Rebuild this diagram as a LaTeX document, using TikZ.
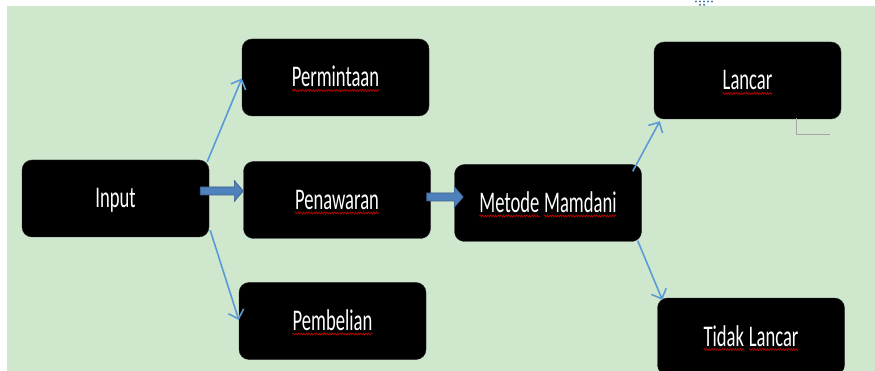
\documentclass[tikz,border=0pt]{standalone}
\usepackage{fontspec}
\usepackage{tikz}
\usetikzlibrary{arrows.meta, positioning, calc, decorations.pathmorphing}
\newfontfamily\boxfont[FakeStretch=0.62]{Carlito}
\definecolor{bggreen}{RGB}{207,231,205}
\definecolor{linkblue}{RGB}{91,155,213}
\definecolor{blockblue}{RGB}{79,129,189}
\definecolor{blockedge}{RGB}{56,93,138}
\definecolor{spellred}{RGB}{192,0,0}
% red spell-check squiggle under a word
\newcommand{\wavy}[1]{\tikz[baseline=(w.base), x=1pt, y=1pt]{%
  \node[inner sep=0pt, outer sep=0pt, minimum width=0pt, minimum height=0pt,
        text height=, text depth=, fill=none, draw=none, text=white] (w) {#1};
  \draw[spellred, line width=0.6pt, fill=none, rounded corners=0pt,
        decorate, decoration={zigzag, amplitude=1pt, segment length=2.6pt}]
    ([yshift=-3.5pt]w.base west) -- ([yshift=-3.5pt]w.base east);}}
\tikzset{
  box/.style={fill=black, draw=black!85, rounded corners=10pt,
              minimum width=187pt, minimum height=77pt, inner sep=0pt,
              text height=19pt, text depth=0pt,
              text=white, font=\boxfont\fontsize{30}{32}\selectfont},
  link/.style={draw=linkblue, line width=1.6pt,
               -{Straight Barb[length=8pt,width=16pt,line width=1.6pt]}},
  blockarrow/.style={fill=blockblue, draw=blockedge, line width=0.6pt}
}
\newcommand{\blockarrow}[2]{%
  \draw[blockarrow] ($(#1)+(0,-4)$) -- ($(#2)+(-9,-4)$) -- ($(#2)+(-9,-10.5)$)
    -- (#2) -- ($(#2)+(-9,10.5)$) -- ($(#2)+(-9,4)$) -- ($(#1)+(0,4)$) -- cycle;}

\begin{document}
\begin{tikzpicture}[x=1pt, y=-1pt]
  \useasboundingbox (0,0) rectangle (875,371);
  \fill[bggreen] (7,6) rectangle (875,371);
  \begin{scope}
  \clip (0,0) rectangle (875,371);

  % boxes
  \node[box] (input)      at (115.5,198.5) {Input};
  \node[box] (permintaan) at (335.5,77.5)  {\wavy{Permintaan}};
  \node[box] (penawaran)  at (337,200)     {\wavy{Penawaran}};
  \node[box] (pembelian)  at (332.5,321)   {\wavy{Pembelian}};
  \node[box] (metode)     at (548,203)     {\wavy{Metode} \wavy{Mamdani}};
  \node[box] (lancar)     at (747.5,80.5)  {\wavy{Lancar}};
  \node[box] (tidak)      at (751,336.5)   {\wavy{Tidak} \wavy{Lancar}};
  \end{scope}

  % thin arrows
  \draw[link] ($(input.north east)+(-2,2)$) -- ($(permintaan.west)+(0,1)$);
  \draw[link] ($(input.south east)+(1,-7)$) -- ($(pembelian.west)+(0,-1)$);
  \draw[link] ($(metode.north east)+(-9,7)$) -- ($(lancar.south west)+(6,2)$);
  \draw[link] ($(metode.south east)+(-4,-1)$) -- ($(tidak.north west)+(5,2)$);

  % block arrows
  \coordinate (b1s) at ($(input.east)+(-9,-7.5)$);
  \coordinate (b1e) at (penawaran.west |- b1s);
  \blockarrow{b1s}{b1e}
  \coordinate (b2s) at ($(penawaran.east)+(-4,-3)$);
  \coordinate (b2e) at ($(metode.west |- b2s)+(9,0)$);
  \blockarrow{b2s}{b2e}

  % leftover marks
  \draw[gray!70, line width=0.8pt] (796,118) -- (796,134) -- (830,134);
  \foreach \x in {696,700,704,708,712}
    \fill[linkblue!80!black] (\x,1.5) circle (1.2pt);
  \foreach \x in {700,704}
    \fill[linkblue!80!black] (\x,4.8) circle (1.2pt);
\end{tikzpicture}
\end{document}
